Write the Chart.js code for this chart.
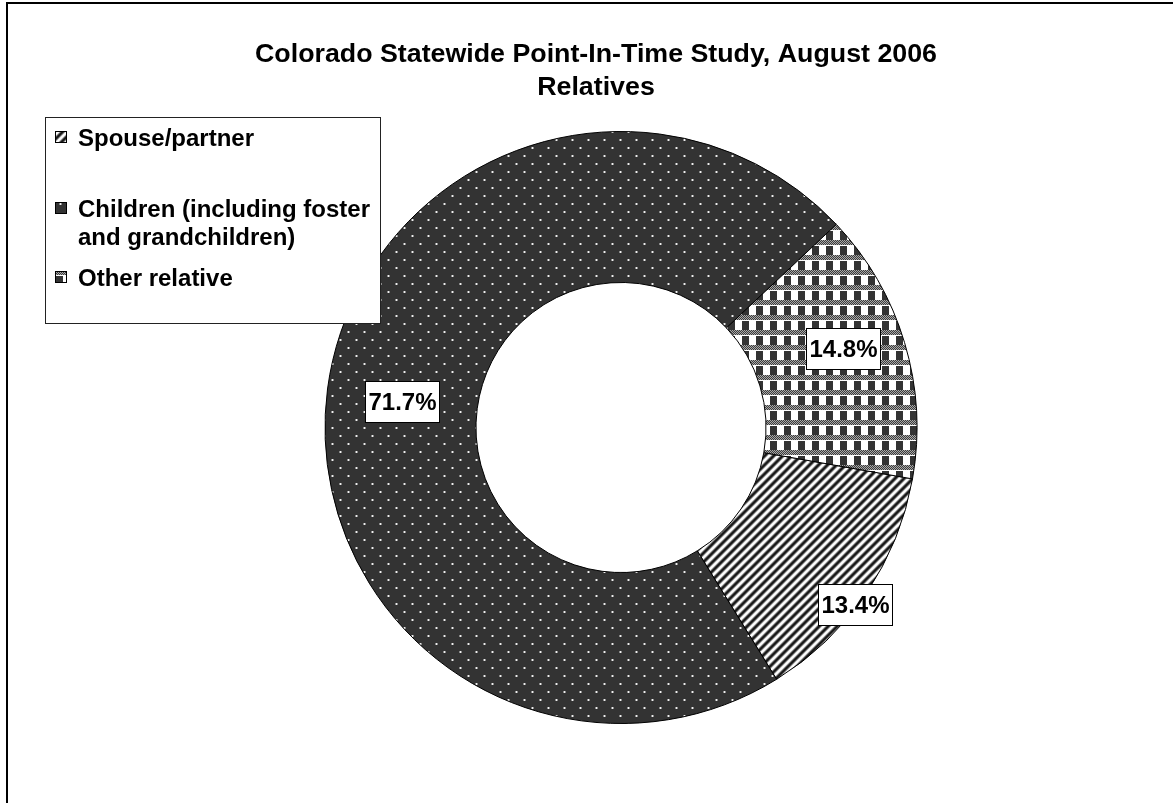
<!DOCTYPE html>
<html lang="en">
<head>
<meta charset="utf-8">
<title>Colorado Statewide Point-In-Time Study, August 2006 - Relatives</title>
<script src="https://cdn.jsdelivr.net/npm/chart.js@4.4.1/dist/chart.umd.min.js"></script>
<style>
	html, body { margin: 0; padding: 0; background: #fff; }
	#wrap { width: 1173px; height: 803px; overflow: hidden; }
</style>
</head>
<body>
<div id="wrap"><canvas id="relatives" width="1173" height="803"></canvas></div>
<script>
( function () {
	'use strict';

	const titleLines = [ 'Colorado Statewide Point-In-Time Study, August 2006', 'Relatives' ];
	const categories = [ 'Spouse/partner', 'Children (including foster and grandchildren)', 'Other relative' ];
	const legendLines = [ [ 'Spouse/partner' ], [ 'Children (including foster', 'and grandchildren)' ], [ 'Other relative' ] ];
	const shares = [ 13.4, 71.7, 14.8 ];

	const FONT = '"Liberation Sans", Arial, Helvetica, sans-serif';

	// Where each value box sits inside its ring segment: fraction of the ring
	// width from the hole outwards, and a small turn (degrees) off the mid angle.
	const labelDepth = [ 0.98, 0.5, 0.6 ];
	const labelTurn = [ 3, -0.6, -3 ];

	// Small repeating fills, drawn once into offscreen tiles.
	function tile( w, h, paint ) {
		const c = document.createElement( 'canvas' );
		c.width = w;
		c.height = h;
		paint( c.getContext( '2d' ), w, h );
		return c.getContext( '2d' ).createPattern( c, 'repeat' );
	}

	// "/" stripes, soft edged.
	const stripes = tile( 9, 9, ( ctx, w, h ) => {
		const img = ctx.createImageData( w, h );
		for ( let y = 0; y < h; y++ ) {
			for ( let x = 0; x < w; x++ ) {
				const v = Math.max( 25, Math.min( 255, Math.round( 140 + 135 * Math.cos( ( x + y ) * 2 * Math.PI / 9 ) ) ) );
				const i = ( y * w + x ) * 4;
				img.data[ i ] = img.data[ i + 1 ] = img.data[ i + 2 ] = v;
				img.data[ i + 3 ] = 255;
			}
		}
		ctx.putImageData( img, 0, 0 );
	} );

	// Dark grey with staggered light dots.
	const dots = tile( 16, 16, ( ctx ) => {
		ctx.fillStyle = '#333';
		ctx.fillRect( 0, 0, 16, 16 );
		[ [ 4, 3 ], [ 12, 11 ] ].forEach( ( [ x, y ] ) => {
			ctx.fillStyle = '#8a8a8a';
			ctx.fillRect( x - 1, y, 3, 2 );
			ctx.fillStyle = '#f0f0f0';
			ctx.fillRect( x, y, 1, 2 );
		} );
	} );

	// Plaid: stippled horizontal bands crossed by dark blocks.
	const plaid = tile( 14, 15, ( ctx ) => {
		ctx.fillStyle = '#fff';
		ctx.fillRect( 0, 0, 14, 15 );
		for ( let y = 0; y < 5; y++ ) {
			for ( let x = 0; x < 14; x++ ) {
				ctx.fillStyle = ( x + y ) % 2 ? '#3c3c3c' : '#a8a8a8';
				ctx.fillRect( x, y, 1, 1 );
			}
		}
		ctx.fillStyle = '#333';
		ctx.fillRect( 0, 5, 7, 10 );
		ctx.fillStyle = '#fff';
		ctx.fillRect( 0, 5, 7, 1 );
	} );

	const fills = [ stripes, dots, plaid ];

	// White page, the frame's left and top rules, and the two-line title.
	const frame = {
		id: 'frame',
		beforeDraw( chart ) {
			const ctx = chart.ctx;
			ctx.save();
			ctx.fillStyle = '#fff';
			ctx.fillRect( 0, 0, chart.width, chart.height );
			ctx.strokeStyle = '#000';
			ctx.lineWidth = 2;
			ctx.beginPath();
			ctx.moveTo( 7, chart.height );
			ctx.lineTo( 7, 3 );
			ctx.lineTo( chart.width, 3 );
			ctx.stroke();

			ctx.fillStyle = '#000';
			ctx.font = 'bold 26px ' + FONT;
			ctx.textAlign = 'center';
			ctx.textBaseline = 'alphabetic';
			[ 62, 95 ].forEach( ( y, i ) => {
				ctx.save();
				ctx.translate( 596, y );
				ctx.scale( 1.03, 1 );
				ctx.fillText( titleLines[ i ], 0, 0 );
				ctx.restore();
			} );
			ctx.restore();
		},
	};

	// Boxed percentage on each segment.
	const sliceLabels = {
		id: 'sliceLabels',
		afterDatasetsDraw( chart ) {
			const ctx = chart.ctx;
			const meta = chart.getDatasetMeta( 0 );
			ctx.save();
			ctx.font = 'bold 24px ' + FONT;
			ctx.textAlign = 'center';
			ctx.textBaseline = 'middle';
			meta.data.forEach( ( arc, i ) => {
				const p = arc.getProps( [ 'x', 'y', 'startAngle', 'endAngle', 'innerRadius', 'outerRadius' ] );
				const a = ( p.startAngle + p.endAngle ) / 2 + labelTurn[ i ] * Math.PI / 180;
				const r = p.innerRadius + labelDepth[ i ] * ( p.outerRadius - p.innerRadius );
				const x = p.x + r * Math.cos( a );
				const y = p.y + r * Math.sin( a );
				const text = shares[ i ].toFixed( 1 ) + '%';
				const w = Math.round( ctx.measureText( text ).width + 6 );
				const h = 41;
				const bx = Math.round( x - w / 2 ) + 0.5;
				const by = Math.round( y - h / 2 ) + 0.5;
				ctx.fillStyle = '#fff';
				ctx.fillRect( bx, by, w, h );
				ctx.strokeStyle = '#000';
				ctx.lineWidth = 1;
				ctx.strokeRect( bx, by, w, h );
				ctx.fillStyle = '#000';
				ctx.fillText( text, bx + w / 2, by + h / 2 + 1 );
			} );
			ctx.restore();
		},
	};

	// Legend panel in the upper left, laid over the ring.
	const legendBox = {
		id: 'legendBox',
		afterDraw( chart ) {
			const ctx = chart.ctx;
			const baselines = [ [ 146 ], [ 217, 245 ], [ 286 ] ];
			ctx.save();
			ctx.fillStyle = '#fff';
			ctx.fillRect( 45, 117, 335, 206 );
			ctx.strokeStyle = '#222';
			ctx.lineWidth = 1;
			ctx.strokeRect( 45.5, 117.5, 335, 206 );
			ctx.font = 'bold 24px ' + FONT;
			ctx.textAlign = 'left';
			ctx.textBaseline = 'alphabetic';
			legendLines.forEach( ( lines, i ) => {
				const top = baselines[ i ][ 0 ] - 15;
				ctx.fillStyle = fills[ i ];
				ctx.fillRect( 55, top, 12, 12 );
				ctx.strokeStyle = '#000';
				ctx.strokeRect( 55.5, top + 0.5, 11, 11 );
				ctx.fillStyle = '#000';
				lines.forEach( ( line, j ) => ctx.fillText( line, 78, baselines[ i ][ j ] ) );
			} );
			ctx.restore();
		},
	};

	new Chart( document.getElementById( 'relatives' ), {
		type: 'doughnut',
		data: {
			labels: categories,
			datasets: [ {
				data: shares,
				backgroundColor: fills,
				borderColor: '#000',
				borderWidth: 1,
				hoverOffset: 0,
			} ],
		},
		options: {
			responsive: false,
			animation: false,
			events: [],
			rotation: 100,
			cutout: '49%',
			radius: 296,
			layout: { padding: { left: 100, right: 31, top: 60, bottom: 8 } },
			plugins: {
				legend: { display: false },
				tooltip: { enabled: false },
			},
		},
		plugins: [ frame, sliceLabels, legendBox ],
	} );
} )();
</script>
</body>
</html>
